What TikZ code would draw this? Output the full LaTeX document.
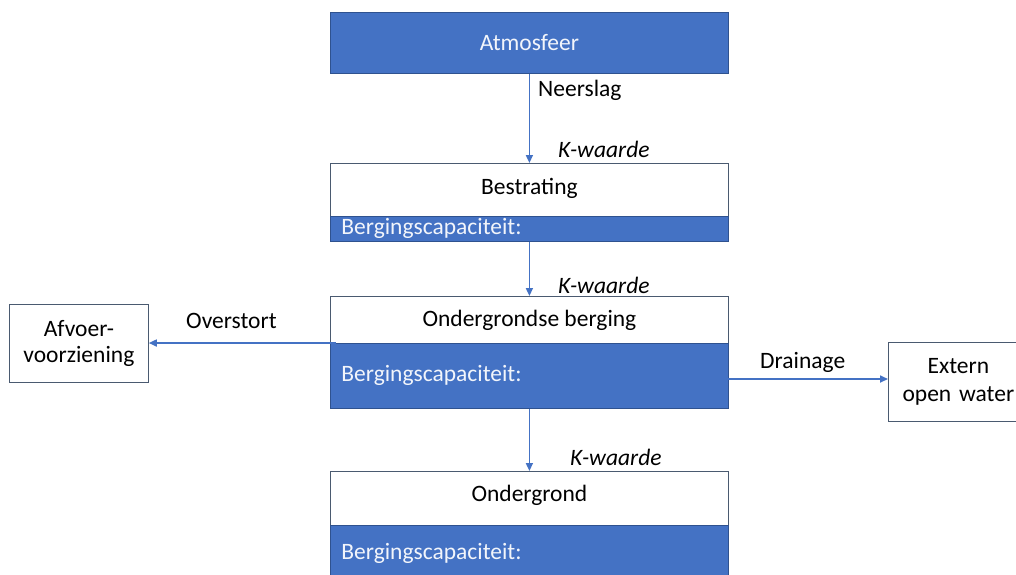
\documentclass[tikz,border=0pt]{standalone}
\usepackage{fontspec}
\setmainfont{Carlito}
\usetikzlibrary{arrows.meta}
\definecolor{bblue}{HTML}{4472C4}
\definecolor{bedge}{HTML}{2F528F}
\definecolor{wtext}{HTML}{F2F5FB}
\definecolor{gedge}{HTML}{4A5A70}
\begin{document}
\begin{tikzpicture}[x=1pt,y=-1pt,
  every node/.style={font=\fontsize{23.5}{28}\selectfont, inner sep=0pt},
  bluebox/.style={draw=bedge, line width=0.8pt, fill=bblue, text=wtext, minimum width=398pt, anchor=north west},
  whitebox/.style={draw=gedge, line width=0.8pt, fill=white, minimum width=398pt, anchor=north west},
  stripbox/.style={bluebox, text width=376pt, align=left},
  sidebox/.style={draw=gedge, line width=0.8pt, fill=white, align=center, anchor=north west},
  flow/.style={draw=bblue, line width=1.6pt, -{Triangle[length=8pt,width=7pt]}},
  lbl/.style={font=\fontsize{23.5}{28}\selectfont},
  klbl/.style={font=\fontsize{23.5}{28}\selectfont\itshape}
]
\useasboundingbox (0,0) rectangle (1016,574);
\begin{scope}
\clip (0,0) rectangle (1016,574);
% Atmosfeer
\node[bluebox, minimum height=61pt] (atm) at (330,12) {Atmosfeer};
% Bestrating
\node[whitebox, minimum height=53pt] (bes) at (330,163) {\raisebox{8pt}{Bestrating}};
\node[stripbox, minimum height=25pt] (besB) at (330,216) {Bergingscapaciteit:};
% Ondergrondse berging
\node[whitebox, minimum height=47pt] (ob) at (330,296) {Ondergrondse berging};
\node[stripbox, minimum height=65pt] (obB) at (330,343) {\raisebox{-4pt}{Bergingscapaciteit:}};
% Ondergrond
\node[whitebox, minimum height=54pt] (og) at (330,471) {\raisebox{10pt}{Ondergrond}};
\node[stripbox, minimum height=56pt] (ogB) at (330,525) {Bergingscapaciteit:};
% side boxes
\node[sidebox, minimum width=139pt, minimum height=78pt, font=\fontsize{23.5}{26}\selectfont] (afv) at (9,304) {Afvoer-\\voorziening};
\node[sidebox, minimum width=140pt, minimum height=79pt, text width=128pt] (ext) at (888,342) {Extern\\open water};
\end{scope}
% connectors
\draw[flow] (atm.south) -- (bes.north);
\draw[flow] (besB.south) -- (ob.north);
\draw[flow] (obB.south) -- (og.north);
\coordinate (ovs) at (336,343);
\draw[flow] (ovs) -- (afv.east |- ovs);
\coordinate (drs) at (728,379);
\draw[flow] (drs) -- (ext.west |- drs);
% labels
\node[lbl, anchor=west] (neer) at (538,90) {Neerslag};
\node[klbl, anchor=west] (k1) at (558,149) {K-waarde};
\node[klbl, anchor=west] (k2) at (558,285) {K-waarde};
\node[klbl, anchor=west] (k3) at (570,457) {K-waarde};
\node[lbl, anchor=west] (ovl) at (186,321) {Overstort};
\node[lbl, anchor=west] (drl) at (760,362) {Drainage};
\end{tikzpicture}
\end{document}
